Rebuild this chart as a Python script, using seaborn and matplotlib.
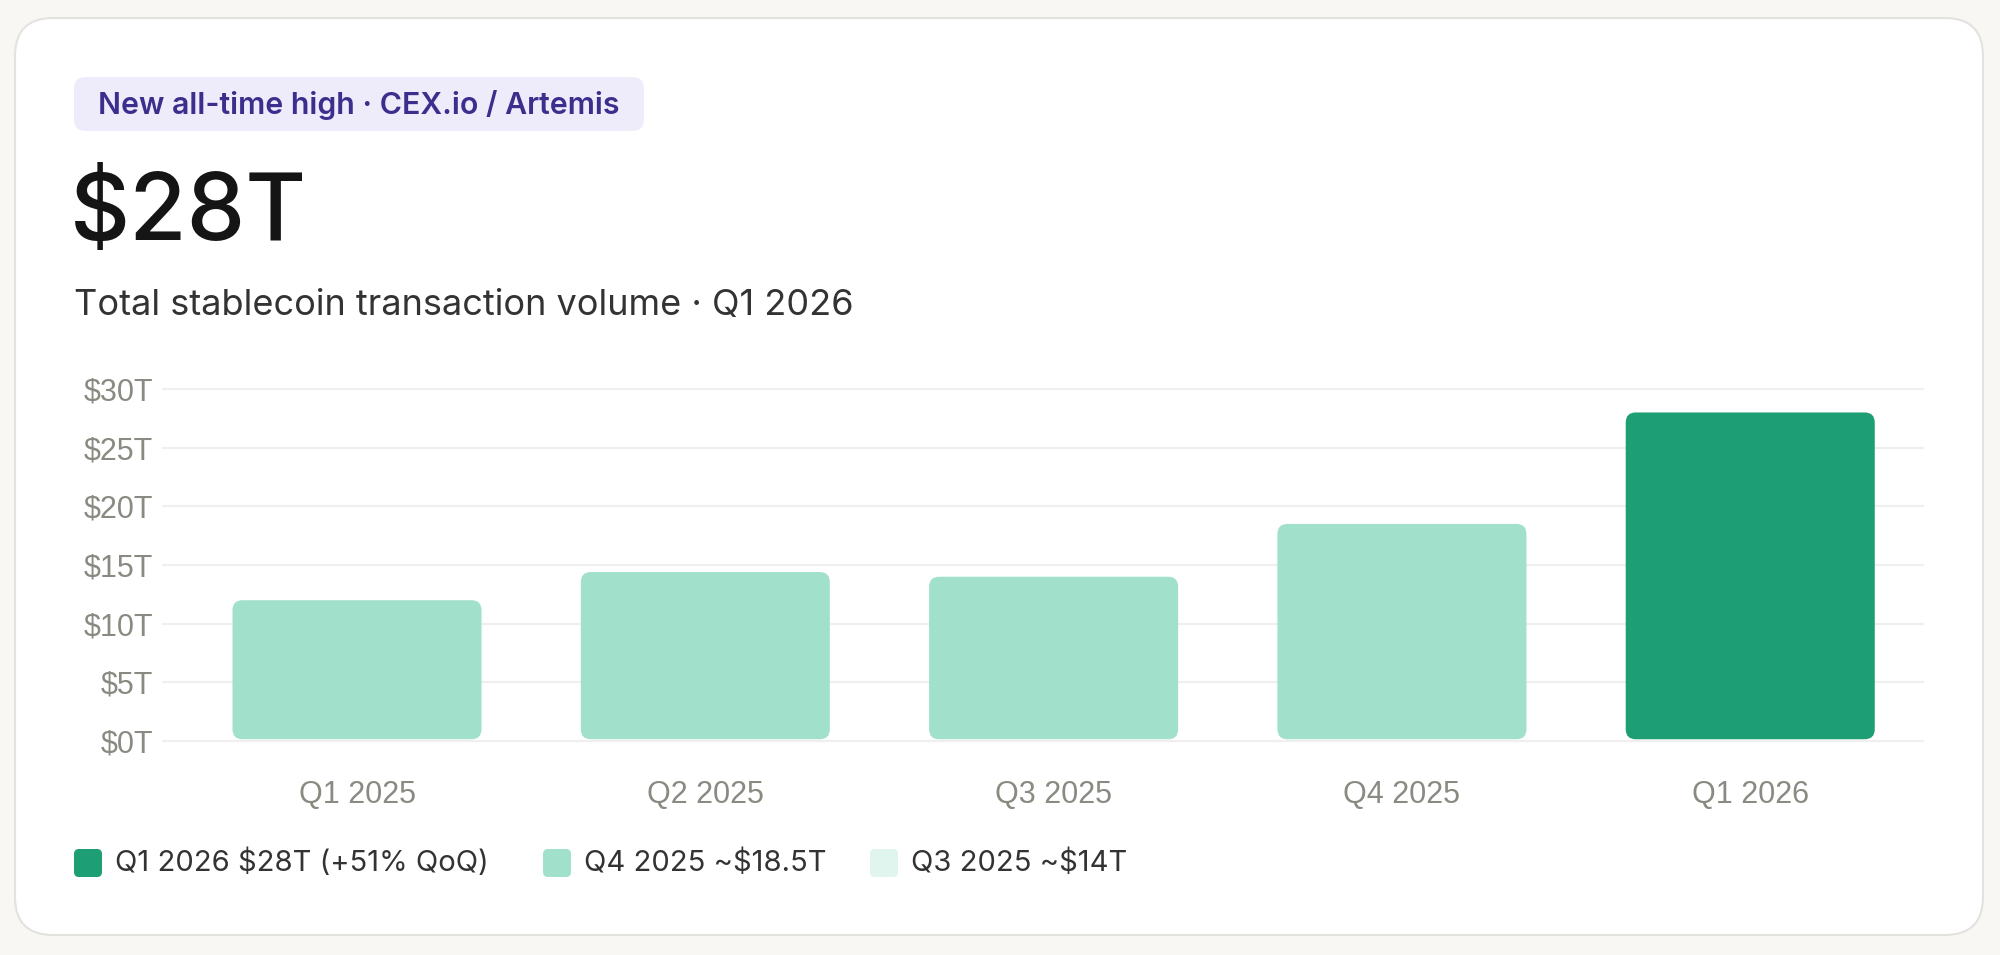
import numpy as np
import pandas as pd
import matplotlib
matplotlib.use("Agg")
import matplotlib.pyplot as plt
from matplotlib.patches import FancyBboxPatch
import seaborn as sns

# chart data
quarters = ["Q1 2025", "Q2 2025", "Q3 2025", "Q4 2025", "Q1 2026"]
volume_t = [12.0, 14.4, 14.0, 18.5, 28.0]
bar_colors = ["#a1e1cb", "#a1e1cb", "#a1e1cb", "#a1e1cb", "#1d9e74"]
y_ticks = [0, 5, 10, 15, 20, 25, 30]
y_tick_labels = ["$0T", "$5T", "$10T", "$15T", "$20T", "$25T", "$30T"]
legend_labels = ["Q1 2026 $28T (+51% QoQ)", "Q4 2025 ~$18.5T", "Q3 2025 ~$14T"]
legend_colors = ["#1d9e74", "#a1e1cb", "#e0f5ee"]

badge_text = "New all-time high \u00b7 CEX.io / Artemis"
headline = "$28T"
subtitle = "Total stablecoin transaction volume \u00b7 Q1 2026"

W, H = 2000, 955

sns.set_theme(style="white")
plt.rcParams["font.family"] = ["Inter", "DejaVu Sans"]

fig = plt.figure(figsize=(W / 100, H / 100), dpi=100)
fig.patch.set_facecolor("#f8f7f3")

# background layer in pixel coordinates (y from top)
bg = fig.add_axes([0, 0, 1, 1])
bg.set_xlim(0, W)
bg.set_ylim(H, 0)
bg.axis("off")
bg.set_zorder(0)

card = FancyBboxPatch((15, 18), 1968, 917, boxstyle="round,pad=0,rounding_size=38",
                      facecolor="white", edgecolor="#e3e2de", linewidth=1.5)
bg.add_patch(card)

badge = FancyBboxPatch((74, 77), 570, 54, boxstyle="round,pad=0,rounding_size=12",
                       facecolor="#eeebfb", edgecolor="none")
bg.add_patch(badge)
bg.text(98, 105, badge_text, fontsize=21.8, fontweight="semibold", color="#3b2e8c",
        va="center", ha="left")

bg.text(70, 215, headline, fontsize=67, fontweight="medium", color="#151515",
        va="center", ha="left")
bg.text(74, 305, subtitle, fontsize=26, color="#333333", va="center", ha="left")

# legend row
leg_x = [74, 543, 870]
for x0, lab, col in zip(leg_x, legend_labels, legend_colors):
    bg.add_patch(FancyBboxPatch((x0, 849), 28, 28, boxstyle="round,pad=0,rounding_size=5",
                                facecolor=col, edgecolor="none"))
    bg.text(x0 + 41, 863, lab, fontsize=21, color="#333333", va="center", ha="left")

# chart axes
ax_left, ax_right = 163 / W, 1923 / W
ax_bottom, ax_top = 1 - 741 / H, 1 - 389 / H
ax = fig.add_axes([ax_left, ax_bottom, ax_right - ax_left, ax_top - ax_bottom])
ax.set_zorder(1)
ax.patch.set_alpha(0)

sns.barplot(x=quarters, y=volume_t, hue=quarters, palette=bar_colors, legend=False,
            width=0.715, saturation=1, ax=ax, zorder=3)

# swap plain bars for rounded ones
px_per_x = (1923 - 163) / (4.496 + 0.557)
px_per_y = (741 - 389) / 30
r_x = 10 / px_per_x
aspect = (10 / px_per_y) / r_x
for p in list(ax.patches):
    x, y = p.get_x(), p.get_y()
    w, h = p.get_width(), p.get_height()
    col = p.get_facecolor()
    p.remove()
    ax.add_patch(FancyBboxPatch((x, y + 0.15), w, h - 0.15,
                                boxstyle=f"round,pad=0,rounding_size={r_x}",
                                mutation_aspect=aspect, facecolor=col,
                                edgecolor="none", zorder=3))

ax.set_xlim(-0.557, 4.496)
ax.set_ylim(0, 30)
ax.set_yticks(y_ticks)
ax.set_yticklabels(y_tick_labels)
ax.grid(axis="y", color="#efefef", linewidth=1.6, zorder=0)
ax.grid(axis="x", visible=False)
for g in ax.get_ygridlines():
    g.set_clip_on(False)
for s in ax.spines.values():
    s.set_visible(False)
ax.tick_params(axis="both", length=0, labelcolor="#8a8a82", labelsize=22)
ax.tick_params(axis="y", pad=7)
ax.tick_params(axis="x", pad=28)
for lbl in ax.get_xticklabels() + ax.get_yticklabels():
    lbl.set_fontfamily(["Liberation Sans", "DejaVu Sans"])
ax.set_xlabel("")
ax.set_ylabel("")

fig.savefig("out.png", dpi=100, facecolor=fig.get_facecolor())
